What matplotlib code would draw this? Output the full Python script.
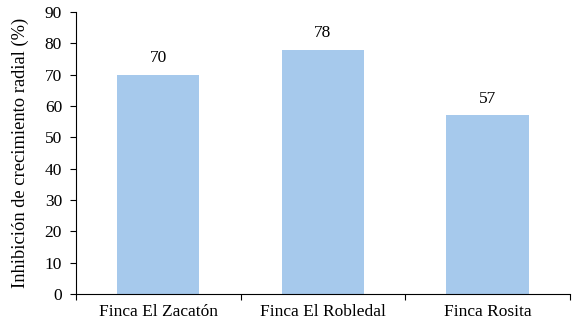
import matplotlib

matplotlib.use("Agg")

import matplotlib.pyplot as plt
import numpy as np

categories = ["Finca El Zacatón", "Finca El Robledal", "Finca Rosita"]
inhibition = [70, 78, 57]
y_ticks = list(range(0, 91, 10))

plt.rcParams["font.family"] = ["Liberation Serif", "DejaVu Serif"]
plt.rcParams["font.size"] = 12.5

fig = plt.figure(figsize=(5.74, 3.23), dpi=100)
ax = fig.add_axes([0.1324, 0.0898, 0.8606, 0.8732])

x = np.arange(len(categories))
bars = ax.bar(x, inhibition, width=0.5, color="#A6C9EC")
for rect, value in zip(bars, inhibition):
    ax.text(rect.get_x() + rect.get_width() / 2, value + 2.6, f"{value}",
            ha="center", va="bottom", fontsize=12.5)

ax.set_xlim(-0.5, len(categories) - 0.5)
ax.set_ylim(0, 90)
ax.set_yticks(y_ticks)
ax.set_xticks(x)
ax.set_xticklabels(categories)
ax.set_xticks(np.arange(-0.5, len(categories), 1), minor=True)
ax.tick_params(axis="x", which="major", length=0, pad=7)
ax.tick_params(axis="x", which="minor", length=4, direction="out", width=0.8)
ax.tick_params(axis="y", length=4, direction="out", width=0.8, pad=6)
ax.set_ylabel("Inhibición de crecimiento radial (%)", fontsize=13.3, labelpad=11)

for side in ("top", "right"):
    ax.spines[side].set_visible(False)
for side in ("left", "bottom"):
    ax.spines[side].set_linewidth(0.8)
    ax.spines[side].set_color("black")

fig.savefig("out.png", dpi=100)
plt.close(fig)
